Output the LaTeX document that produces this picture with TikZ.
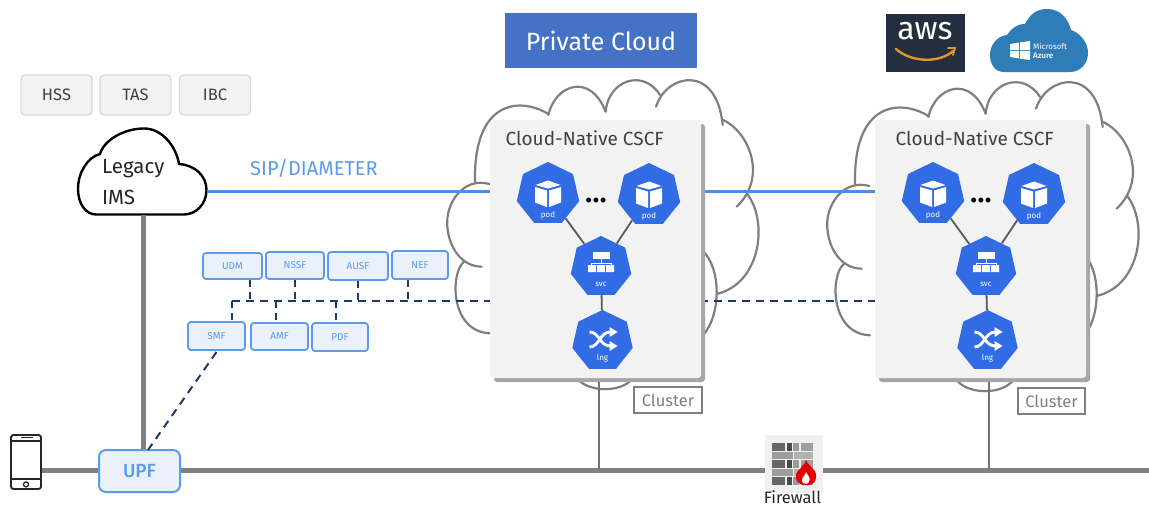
\documentclass[tikz,border=0pt]{standalone}
\usepackage{fontspec}
\setmainfont{Fira Sans}[BoldFont={Fira Sans Medium}]
\usetikzlibrary{shapes.geometric,calc}
\definecolor{kblue}{HTML}{326CE5}
\definecolor{fnblue}{HTML}{5B9BEA}
\definecolor{fnfill}{HTML}{EAF1FB}
\definecolor{navy}{HTML}{1F3864}
\definecolor{sipblue}{HTML}{4A90E2}
\definecolor{txtdark}{HTML}{404040}
\definecolor{cloudgray}{HTML}{7F7F7F}
\definecolor{mainline}{HTML}{808080}
\tikzset{
  x=1pt,y=-1pt,
  cloudline/.style={draw=cloudgray,line width=2.2pt,line cap=round},
  hepta/.style={regular polygon,regular polygon sides=7,fill=kblue,inner sep=0pt,minimum size=#1},
  hexlabel/.style={text=white,font=\fontsize{8}{9}\selectfont,inner sep=0pt},
  fnbox/.style={draw=fnblue,fill=fnfill,line width=1.8pt,rounded corners=3pt,inner sep=0pt,text=fnblue,font=\fontsize{10}{11}\selectfont},
  dashline/.style={draw=navy,line width=2pt,dash pattern=on 8pt off 6pt},
  dashshort/.style={draw=navy,line width=2pt,dash pattern=on 7pt off 5pt},
  graybox/.style={draw=black!15,fill=black!5,line width=1.2pt,rounded corners=4pt,minimum width=71pt,minimum height=40pt,inner sep=0pt,text=txtdark,font=\fontsize{16.5}{18}\selectfont},
  clusterbox/.style={draw=cloudgray,fill=white,line width=1.6pt,minimum width=67pt,minimum height=26pt,inner sep=0pt,text=cloudgray,font=\fontsize{16.5}{18}\selectfont},
  csfbox/.style={fill=black!5,rounded corners=3pt,minimum width=211pt,minimum height=258pt,inner sep=0pt},
  csfshadow/.style={fill=black!35,rounded corners=3pt,minimum width=211pt,minimum height=258pt,inner sep=0pt},
  podlink/.style={draw=black!65,line width=1.8pt},
  mainlink/.style={draw=mainline,line width=5pt},
  droplink/.style={draw=black!55,line width=2.8pt},
  siplink/.style={draw=sipblue,line width=3pt},
}
\newcommand{\csfcloud}[2]{%
\begin{scope}[shift={(#1,#2)},scale=1/3]
\draw[cloudline] (325,132) .. controls (240,80) and (100,90) .. (105,335);
\draw[cloudline] (148,342) .. controls (70,320) and (15,400) .. (22,470) .. controls (28,540) and (70,590) .. (125,590);
\draw[cloudline] (72,575) .. controls (30,610) and (30,785) .. (150,790);
\draw[cloudline] (325,135) .. controls (345,45) and (450,5) .. (497,125);
\draw[cloudline] (497,125) .. controls (505,30) and (610,-5) .. (660,75);
\draw[cloudline] (648,110) .. controls (680,10) and (830,-20) .. (848,165);
\draw[cloudline] (850,150) .. controls (925,185) and (985,320) .. (890,410);
\draw[cloudline] (920,370) .. controls (985,450) and (965,640) .. (830,672);
\draw[cloudline] (785,540) .. controls (845,590) and (845,740) .. (785,800);
\draw[cloudline] (415,930) .. controls (450,965) and (540,970) .. (580,925);
\end{scope}}
\newcommand{\cubeicon}[1]{%
\begin{scope}[shift={(#1)}]
\fill[white] (-12.5,-9) -- (0,-13.5) -- (12.5,-9) -- (0,-5.5) -- cycle;
\fill[white] (-13,-7) -- (-1,-3.5) -- (-1,13) -- (-13,8.5) -- cycle;
\fill[white] (13,-7) -- (1,-3.5) -- (1,13) -- (13,8.5) -- cycle;
\end{scope}}
\newcommand{\svcicon}[1]{%
\begin{scope}[shift={(#1)}]
\fill[white] (-8,-15) rectangle (9,-8);
\draw[white,line width=1pt] (0,-8) -- (0,-4) (-10,-4) -- (10,-4) (-10,-4) -- (-10,-1) (10,-4) -- (10,-1);
\fill[white] (-13,-2) rectangle (-5,5) (-4,-2) rectangle (4,5) (5,-2) rectangle (13,5);
\end{scope}}
\newcommand{\ingicon}[1]{%
\begin{scope}[shift={(#1)}]
\draw[white,line width=2.8pt] (-13,-9) .. controls (-3,-9) and (-3,5) .. (8,5);
\draw[white,line width=2.8pt] (-13,6) .. controls (-3,6) and (-3,-9) .. (8,-9);
\fill[white] (7,-14) -- (15,-9) -- (7,-4) -- cycle;
\fill[white] (7,0) -- (15,5) -- (7,10) -- cycle;
\end{scope}}
% #1 prefix, #2 dx, #3 title dx
\newcommand{\csfpanel}[3]{%
\node[csfshadow] at ({595.5+#2+4},{249+4}) {};
\node[csfbox] (#1box) at ({595.5+#2},249) {};
\node[anchor=west,inner sep=0pt,text=txtdark,font=\fontsize{19}{21}\selectfont] (#1title) at ({505.5+#2+#3},138.5) {Cloud-Native CSCF};
\node[hepta=64pt] (#1poda) at ({548+#2},194) {};
\node[hepta=64pt] (#1podb) at ({650+#2-1},195) {};
\node[hepta=62pt] (#1svc) at ({601+#2},267) {};
\node[hepta=62pt] (#1ing) at ({602.5+#2},341) {};
\draw[podlink] (#1poda) -- (#1svc);
\draw[podlink] (#1podb) -- (#1svc);
\draw[podlink] (#1svc) -- (#1ing);
\cubeicon{#1poda}\cubeicon{#1podb}
\svcicon{#1svc}\ingicon{#1ing}
\node[hexlabel] at ($(#1poda)+(0,21)$) {pod};
\node[hexlabel] at ($(#1podb)+(0,21)$) {pod};
\node[hexlabel] at ($(#1svc)+(0,17)$) {svc};
\node[hexlabel] at ($(#1ing)+(0,17)$) {lng};
\node[inner sep=0pt,font=\bfseries\fontsize{30}{30}\selectfont,text=black] at ({596+#2},201) {...};
}
\begin{document}
\begin{tikzpicture}
\useasboundingbox (0,0) rectangle (1149,506);
\fill[white] (0,0) rectangle (1149,506);
% clouds behind panels
\csfcloud{440}{70}
\csfcloud{820}{72}
% IMS cloud
\node[inner sep=0pt,minimum width=130pt,minimum height=87pt] (ims) at (142,171.5) {};
\filldraw[fill=white,draw=black,line width=2.4pt,line join=round]
  (96,214.5) .. controls (86,214.5) and (78,204) .. (78,189)
  .. controls (78,172) and (88,157) .. (100,154)
  .. controls (104,140) and (124,128.5) .. (144,128.5)
  .. controls (162,128.5) and (176,146) .. (179,164)
  .. controls (195,165) and (206.5,176) .. (206.5,190)
  .. controls (206.5,204) and (196,214.5) .. (184,214.5) -- cycle;
\node[anchor=west,inner sep=0pt,text=black!85,font=\fontsize{20.5}{22}\selectfont] (imsa) at (102,169) {Legacy};
\node[anchor=west,inner sep=0pt,text=black!85,font=\fontsize{20.5}{22}\selectfont] (imsb) at (102,197) {IMS};
% top boxes
\node[graybox] (hss) at (56.5,95) {HSS};
\node[graybox] (tas) at (135.5,95) {TAS};
\node[graybox] (ibc) at (215,95) {IBC};
\node[fill={rgb,255:red,68;green,114;blue,196},minimum width=192pt,minimum height=55pt,inner sep=0pt,text=white,font=\fontsize{25}{27}\selectfont] (priv) at (601,40.5) {Private Cloud};
% aws
\node[fill={rgb,255:red,35;green,47;blue,62},minimum width=79pt,minimum height=58pt,inner sep=0pt] (aws) at (925.5,43) {};
\node[inner sep=0pt,text=white,font=\fontsize{32}{32}\selectfont] (awst) at (925,31) {aws};
\draw[line width=2.4pt,draw={rgb,255:red,226;green,149;blue,43},line cap=round] (896,49) .. controls (912,63) and (940,63) .. (953,51);
\draw[line width=1.8pt,draw={rgb,255:red,226;green,149;blue,43},line cap=round] (948,48) -- (955,48) -- (953,55);
% azure
\fill[fill={rgb,255:red,46;green,125;blue,184}] (1004,72) .. controls (994,72) and (990,63) .. (990,55)
 .. controls (990,45) and (997,36) .. (1007,35) .. controls (1012,28) and (1017,24) .. (1025,24)
 .. controls (1030,14) and (1037,9) .. (1047,9) .. controls (1060,9) and (1068,18) .. (1071,30)
 .. controls (1082,34) and (1088,44) .. (1088,53) .. controls (1088,64) and (1080,72) .. (1070,72) -- cycle;
\fill[white] (1010,44) -- (1019,42.5) -- (1019,50) -- (1010,50) -- cycle;
\fill[white] (1020,42.3) -- (1030,41) -- (1030,50) -- (1020,50) -- cycle;
\fill[white] (1010,51) -- (1019,51) -- (1019,58.5) -- (1010,57) -- cycle;
\fill[white] (1020,51) -- (1030,51) -- (1030,60) -- (1020,58.7) -- cycle;
\node[anchor=west,inner sep=0pt,text=white,font=\fontsize{8}{9}\selectfont] (azm) at (1033,46) {Microsoft};
\node[anchor=west,inner sep=0pt,text=white,font=\bfseries\fontsize{8}{9}\selectfont] (aza) at (1033,55.5) {Azure};
% connector anchors
\coordinate (sipa) at (490,191);
\coordinate (sipb) at (700,191);
\coordinate (sipc) at (876,191);
\coordinate (busw) at (232,301);
\coordinate (buse) at (491,301);
\coordinate (busf) at (700,301);
\coordinate (busg) at (876,301);
\coordinate (lineend) at (1149,470.5);
% function boxes
\node[fnbox,minimum width=59pt,minimum height=26pt] (udm) at (232.5,266) {UDM};
\node[fnbox,minimum width=58pt,minimum height=27pt] (nssf) at (295,265.5) {NSSF};
\node[fnbox,minimum width=60pt,minimum height=28pt] (ausf) at (358,266) {AUSF};
\node[fnbox,minimum width=56pt,minimum height=28pt] (nef) at (420,265) {NEF};
\node[fnbox,minimum width=57pt,minimum height=28pt] (smf) at (216.5,336) {SMF};
\node[fnbox,minimum width=57pt,minimum height=27pt] (amf) at (279.5,336.5) {AMF};
\node[fnbox,minimum width=56pt,minimum height=28pt] (pdf) at (340,337) {PDF};
% UPF, phone, firewall
\node[draw=fnblue,fill=fnfill,line width=2pt,rounded corners=7pt,minimum width=81pt,minimum height=42pt,inner sep=0pt,text=fnblue,font=\bfseries\fontsize{19}{21}\selectfont] (upf) at (139.5,471) {UPF};
\node[draw=black!85,fill=white,line width=1.9pt,rounded corners=2.5pt,minimum width=30pt,minimum height=54pt,inner sep=0pt] (phone) at (26,462) {};
\draw[black!85,line width=1.5pt] ($(phone.north west)+(0,7)$) -- ($(phone.north east)+(0,7)$);
\draw[black!85,line width=1.5pt] ($(phone.south west)+(0,-11)$) -- ($(phone.south east)+(0,-11)$);
\draw[black!85,line width=1.5pt] ($(phone.north)+(-5,3.5)$) -- ($(phone.north)+(7,3.5)$);
\draw[black!85,line width=1.3pt] ($(phone.south)+(0,-5.5)$) circle (2.5);
\node[fill=black!6,minimum width=58pt,minimum height=58pt,inner sep=0pt] (fw) at (794,464) {};
\foreach \yy in {443,460,477}{
  \fill[black!60] (772,\yy) rectangle (785,\yy+8);
  \fill[black!70] (786.5,\yy) rectangle (792,\yy+8);
  \fill[black!40] (793,\yy) rectangle (799,\yy+8);
  \fill[black!38] (800.5,\yy) rectangle (813,\yy+8);
}
\foreach \yy in {451.5,468.5}{
  \fill[black!38] (772,\yy) rectangle (793,\yy+7.5);
  \fill[black!30] (794,\yy) rectangle (813,\yy+7.5);
}
\fill[red!90!black] (806,460) .. controls (808,466) and (818,470) .. (816,478)
  .. controls (815,485) and (808,486) .. (805,485) .. controls (798,485) and (795,480) .. (796,475)
  .. controls (797,470) and (801,469) .. (802,466) .. controls (803,465) and (806,463) .. (806,460) -- cycle;
\fill[white] (806,472) .. controls (808,476) and (811,478) .. (809,482) .. controls (807,485) and (803,484) .. (802,481) .. controls (801,478) and (805,476) .. (806,472) -- cycle;
\node[inner sep=0pt,text=black!85,font=\fontsize{16.5}{17}\selectfont] (fwt) at (792.5,497) {Firewall};
% connectors
\draw[siplink] (ims.east |- sipa) -- (sipa);
\draw[siplink] (sipb) -- (sipc);
\node[anchor=west,inner sep=0pt,text=fnblue,font=\fontsize{20}{22}\selectfont] (siplbl) at (250,168) {SIP/DIAMETER};
\draw[mainlink] (143,215) -- (upf.north -| 143,0);
\draw[mainlink] (phone.east |- 0,470.5) -- (upf.west |- 0,470.5);
\draw[mainlink] (upf.east |- 0,470.5) -- (fw.west |- 0,470.5);
\draw[mainlink] (fw.east |- 0,470.5) -- (lineend);
\draw[dashline] (busw) -- (buse);
\draw[dashline] (busf) -- (busg);
\draw[dashshort] (udm.south -| 250,0) -- (250,301);
\draw[dashshort] (nssf.south -| 295,0) -- (295,301);
\draw[dashshort] (ausf.south -| 358,0) -- (358,301);
\draw[dashshort] (nef.south -| 408,0) -- (408,301);
\draw[dashshort] (232,320) -- (232,301);
\draw[dashshort] (276,320) -- (276,301);
\draw[dashshort] (336,320) -- (336,301);
\draw[dashline] (216.5,352) -- (148,450);
\coordinate (dropa) at (599,378);
\coordinate (dropb) at (989,378);
\draw[droplink] (dropa) -- (599,470);
\draw[droplink] (dropb) -- (989,470);
% panels
\csfpanel{a}{0}{0}
\csfpanel{b}{385}{5}
\node[clusterbox,minimum width=68pt] (cla) at (668,400) {Cluster};
\node[clusterbox] (clb) at (1051.5,401) {Cluster};
\end{tikzpicture}
\end{document}
